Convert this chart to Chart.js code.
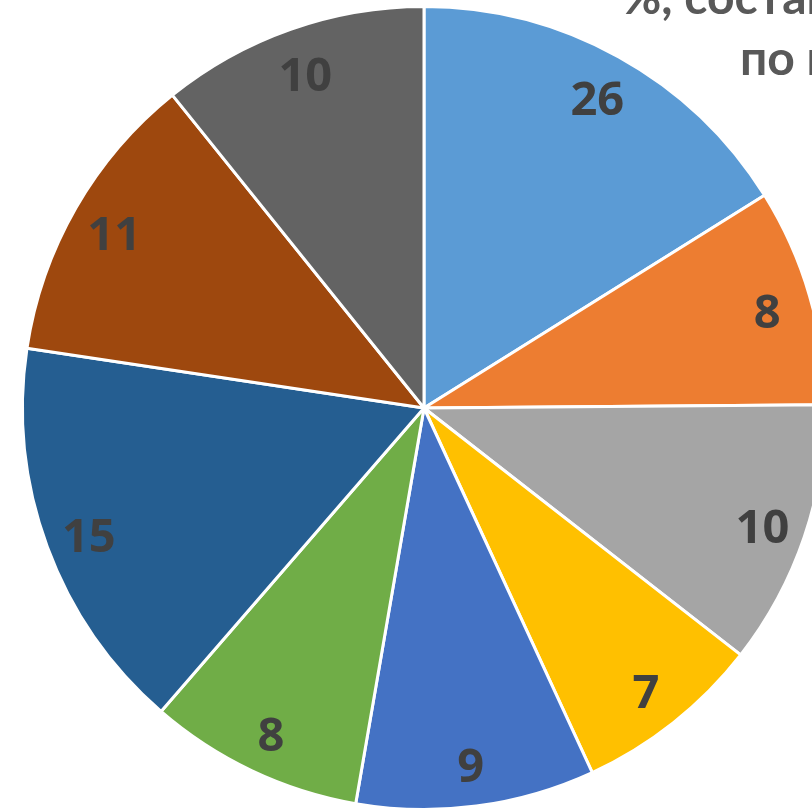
<!DOCTYPE html>
<html>
<head>
<meta charset="utf-8">
<script src="https://cdn.jsdelivr.net/npm/chart.js@4/dist/chart.umd.min.js"></script>
<style>
  html, body { margin: 0; padding: 0; background: #ffffff; overflow: hidden; width: 812px; height: 811px; }
  #wrap { position: absolute; left: 0; top: 0; width: 848px; height: 816px; }
</style>
</head>
<body>
<div id="wrap"><canvas id="c"></canvas></div>
<script>
// Slice sizes estimated from the picture's angles
const categories = ["1", "2", "3", "4", "5", "6", "7", "8", "9"];
const sliceValues = [15.1, 8.2, 10.0, 7.1, 9.0, 8.1, 15.0, 11.1, 10.1];
// Data labels as printed on the chart
const shownLabels = ["26", "8", "10", "7", "9", "8", "15", "11", "10"];
const sliceColors = ["#5B9BD5", "#ED7D31", "#A5A5A5", "#FFC000", "#4472C4", "#70AD47", "#255E91", "#9E480E", "#636363"];
const titleLines = ["%, состав", "по м"];

const labelPlugin = {
  id: 'sliceLabels',
  afterDatasetsDraw(chart) {
    const ctx = chart.ctx;
    const meta = chart.getDatasetMeta(0);
    ctx.save();
    const fs = 47;
    ctx.font = 'bold ' + fs + 'px "Open Sans", Lato, sans-serif';
    ctx.fillStyle = '#404040';
    ctx.textAlign = 'center';
    ctx.textBaseline = 'alphabetic';
    meta.data.forEach((arc, i) => {
      const p = arc.getProps(['x', 'y', 'startAngle', 'endAngle', 'outerRadius'], true);
      const mid = (p.startAngle + p.endAngle) / 2;
      const r = p.outerRadius * 0.89;
      const x = p.x + Math.cos(mid) * r;
      const y = p.y + Math.sin(mid) * r + 3;
      ctx.fillText(shownLabels[i], x, y + fs * 0.357);
    });
    // title (cut off at the right edge)
    ctx.font = 'bold 48px Lato, "Open Sans", sans-serif';
    ctx.fillStyle = '#595959';
    ctx.textAlign = 'left';
    ctx.fillText(titleLines[0], 622, 14);
    ctx.fillText(titleLines[1], 740, 75);
    ctx.restore();
  }
};

new Chart(document.getElementById('c'), {
  type: 'pie',
  data: {
    labels: categories,
    datasets: [{
      data: sliceValues,
      backgroundColor: sliceColors,
      borderColor: '#ffffff',
      borderWidth: 3
    }]
  },
  options: {
    responsive: true,
    maintainAspectRatio: false,
    devicePixelRatio: 1,
    animation: false,
    layout: { padding: 5 },
    plugins: {
      legend: { display: false },
      tooltip: { enabled: false },
      title: { display: false }
    }
  },
  plugins: [labelPlugin]
});
</script>
</body>
</html>
